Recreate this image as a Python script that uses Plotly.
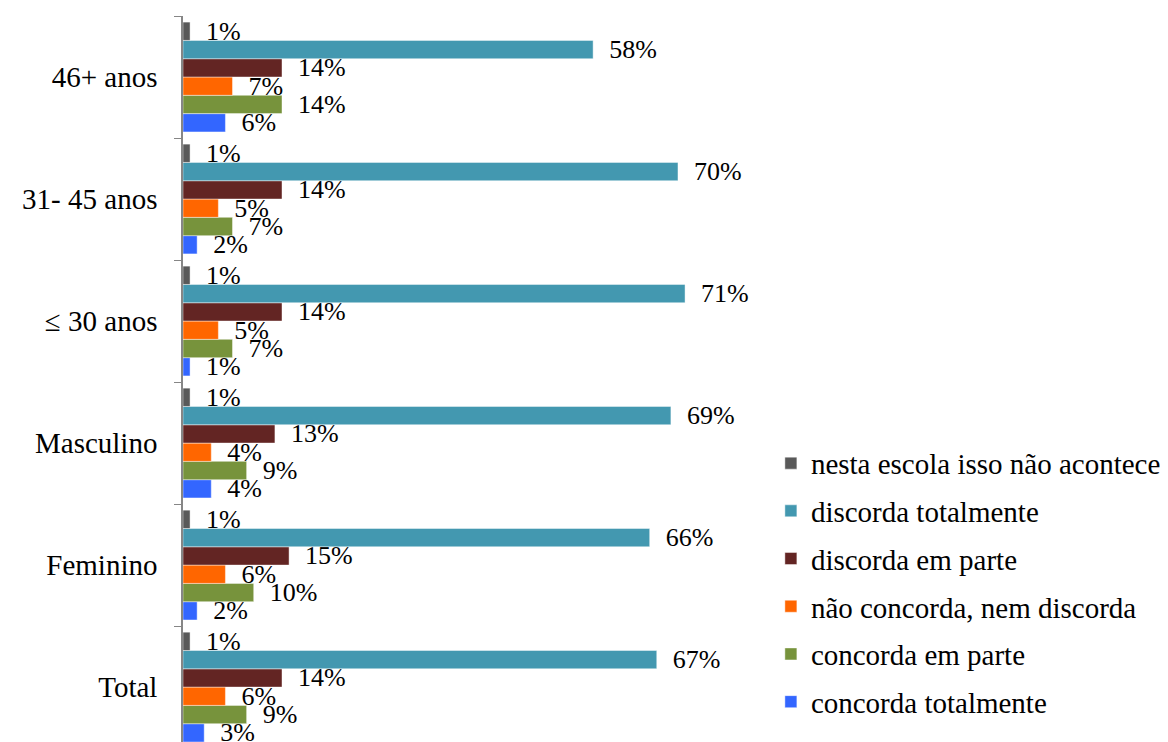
import plotly.graph_objects as go

# Categories listed bottom-to-top as they appear on the y axis
categories = ["Total", "Feminino", "Masculino", "\u2264 30 anos", "31- 45 anos", "46+ anos"]

# Percentage of respondents per answer, same order as categories
nesta_escola = [1, 1, 1, 1, 1, 1]
discorda_totalmente = [67, 66, 69, 71, 70, 58]
discorda_em_parte = [14, 15, 13, 14, 14, 14]
nao_concorda_nem_discorda = [6, 6, 4, 5, 5, 7]
concorda_em_parte = [9, 10, 9, 7, 7, 14]
concorda_totalmente = [3, 2, 4, 1, 2, 6]

# Series drawn bottom-to-top inside each group
series = [
    ("concorda totalmente", concorda_totalmente, "#3366FF"),
    ("concorda em parte", concorda_em_parte, "#77933C"),
    ("não concorda, nem discorda", nao_concorda_nem_discorda, "#FF6600"),
    ("discorda em parte", discorda_em_parte, "#632523"),
    ("discorda totalmente", discorda_totalmente, "#4398B0"),
    ("nesta escola isso não acontece", nesta_escola, "#595959"),
]

FONT = "Times New Roman"

fig = go.Figure()
for i, (name, values, color) in enumerate(series):
    fig.add_trace(go.Bar(
        y=categories,
        x=values,
        name=name,
        orientation="h",
        legendgroup=name,
        legendrank=len(series) - i,
        marker=dict(color=color, line=dict(color="rgba(255,255,255,0.55)", width=0.8)),
        text=values,
        texttemplate="\u00a0\u00a0%{x}%",
        textposition="outside",
        constraintext="none",
        cliponaxis=False,
        textfont=dict(family=FONT, size=26, color="#000000"),
        outsidetextfont=dict(family=FONT, size=26, color="#000000"),
        hoverinfo="skip",
    ))

fig.update_layout(
    width=1168,
    height=742,
    barmode="group",
    bargap=0.1,
    bargroupgap=0,
    plot_bgcolor="white",
    paper_bgcolor="white",
    margin=dict(l=183, r=408, t=16, b=0),
    font=dict(family=FONT, size=29, color="#000000"),
    xaxis=dict(visible=False, range=[0, 81.6]),
    yaxis=dict(
        type="category",
        range=[-0.45, 5.5],
        autorange=False,
        showline=True,
        linecolor="#868686",
        linewidth=1.5,
        ticks="outside",
        tickson="boundaries",
        ticklen=7,
        tickcolor="#868686",
        ticklabelstandoff=18,
        showgrid=False,
        tickfont=dict(family=FONT, size=29, color="#000000"),
    ),
    legend=dict(
        xref="container",
        yref="container",
        x=0.66,
        y=0.41,
        xanchor="left",
        yanchor="top",
        traceorder="grouped",
        tracegroupgap=7,
        font=dict(family=FONT, size=29, color="#000000"),
        bgcolor="rgba(0,0,0,0)",
    ),
    showlegend=True,
)

fig.write_html("out.html")
